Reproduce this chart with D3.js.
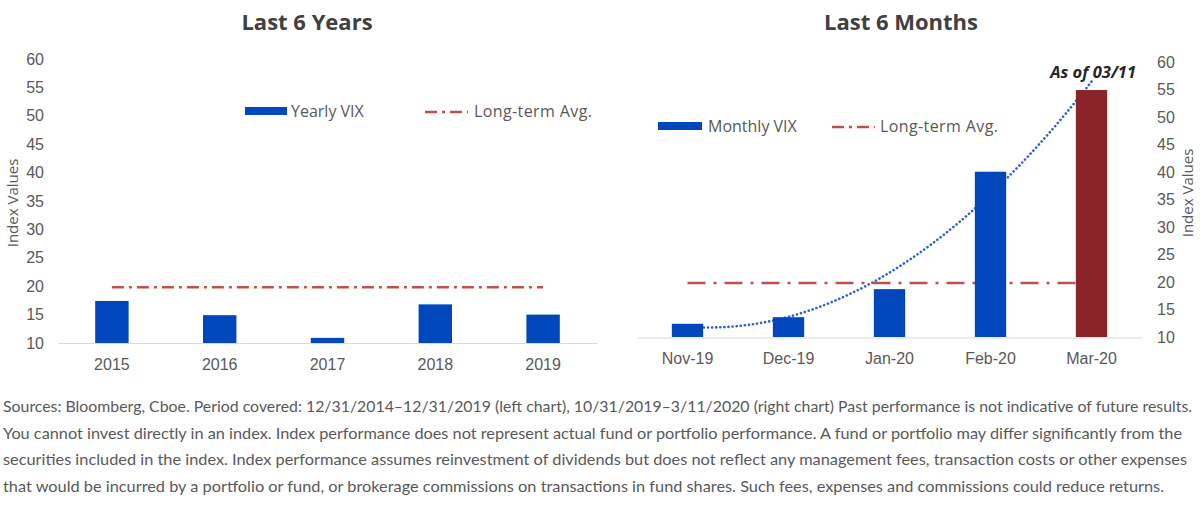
<!DOCTYPE html>
<meta charset="utf-8">
<title>VIX</title>
<style>
body { margin: 0px; background: #fff; }
svg { display: block; font-family: "Open Sans", sans-serif; }
.tick text { fill: #595959; font-size: 16px; }
.title { font-weight: bold; font-size: 22px; fill: #404040; text-anchor: middle; }
.legend { fill: #595959; font-size: 16px; }
.note { fill: #595959; font-size: 15px; font-family: Lato, sans-serif; }
</style>
<script src="https://d3js.org/d3.v7.min.js"></script>
<body>
<script>

var width = 1200, height = 521;

// left chart: yearly VIX
var years = ["2015", "2016", "2017", "2018", "2019"];
var yearlyVix = [17.4, 14.9, 10.9, 16.8, 15.0];

// right chart: monthly VIX
var months = ["Nov-19", "Dec-19", "Jan-20", "Feb-20", "Mar-20"];
var monthlyVix = [12.4, 13.6, 18.7, 40.05, 54.9];

var longTermAvg = 19.8;
var yTicks = [10, 15, 20, 25, 30, 35, 40, 45, 50, 55, 60];

var notes = [
  "Sources: Bloomberg, Cboe. Period covered: 12/31/2014\u201312/31/2019 (left chart), 10/31/2019\u20133/11/2020 (right chart) Past performance is not indicative of future results.",
  "You cannot invest directly in an index. Index performance does not represent actual fund or portfolio performance. A fund or portfolio may differ significantly from the",
  "securities included in the index. Index performance assumes reinvestment of dividends but does not reflect any management fees, transaction costs or other expenses",
  "that would be incurred by a portfolio or fund, or brokerage commissions on transactions in fund shares. Such fees, expenses and commissions could reduce returns."
];
var noteWidths = [1189, 1179, 1184, 1161];

var blue = "#0047bb", darkRed = "#8a2428", avgRed = "#c0504d", trendBlue = "#2e62cf";

var svg = d3.select("body").append("svg")
    .attr("width", width)
    .attr("height", height);

// ---------- left chart ----------
var xL = d3.scaleBand().domain(years).range([58, 597]).paddingInner(0.69).paddingOuter(0.345);
var yL = d3.scaleLinear().domain([10, 60]).range([343, 59]);

svg.append("text").attr("class", "title").attr("x", 307).attr("y", 30).text("Last 6 Years");

svg.append("g")
    .attr("transform", "translate(58,0)")
    .call(d3.axisLeft(yL).tickValues(yTicks).tickSize(0).tickPadding(14))
    .call(function(g) { g.select(".domain").remove(); });

svg.append("g")
    .attr("transform", "translate(0,343)")
    .call(d3.axisBottom(xL).tickSize(0).tickSizeOuter(0).tickPadding(16))
    .call(function(g) { g.select(".domain").attr("stroke", "#d9d9d9").attr("stroke-width", 1.2); });

svg.append("text")
    .attr("class", "legend")
    .attr("transform", "translate(18,203) rotate(-90)")
    .attr("text-anchor", "middle")
    .style("font-size", "15px")
    .text("Index Values");

var line = d3.line();

svg.append("path")
    .attr("d", line([[xL(years[0]) + xL.bandwidth() / 2, yL(longTermAvg)],
                     [xL(years[years.length - 1]) + xL.bandwidth() / 2, yL(longTermAvg)]]))
    .attr("stroke", avgRed).attr("stroke-width", 2.5).attr("fill", "none")
    .attr("stroke-dasharray", "12,5,3,5");

svg.selectAll("rect.yr")
    .data(years)
  .enter().append("rect")
    .attr("class", "yr")
    .attr("x", function(d) { return xL(d); })
    .attr("width", xL.bandwidth())
    .attr("y", function(d, i) { return yL(yearlyVix[i]); })
    .attr("height", function(d, i) { return yL(10) - yL(yearlyVix[i]); })
    .attr("fill", blue);

// left legend
svg.append("rect").attr("x", 245).attr("y", 107).attr("width", 42).attr("height", 8).attr("fill", blue);
svg.append("text").attr("class", "legend").attr("x", 291).attr("y", 117).text("Yearly VIX");
svg.append("path").attr("d", "M425,112H468").attr("stroke", avgRed).attr("stroke-width", 2.5)
    .attr("stroke-dasharray", "12,5,3,5");
svg.append("text").attr("class", "legend").attr("x", 474).attr("y", 117)
    .style("letter-spacing", "0.4px").text("Long-term Avg.");

// ---------- right chart ----------
var xR = d3.scaleBand().domain(months).range([637, 1142]).paddingInner(0.69).paddingOuter(0.345);
var yR = d3.scaleLinear().domain([10, 60]).range([337, 62]);

svg.append("text").attr("class", "title").attr("x", 901).attr("y", 30).text("Last 6 Months");

svg.append("g")
    .attr("transform", "translate(1142,0)")
    .call(d3.axisRight(yR).tickValues(yTicks).tickSize(0).tickPadding(15))
    .call(function(g) { g.select(".domain").remove(); });

svg.append("g")
    .attr("transform", "translate(0,337.5)")
    .call(d3.axisBottom(xR).tickSize(0).tickSizeOuter(0).tickPadding(15))
    .call(function(g) { g.select(".domain").attr("stroke", "#d9d9d9").attr("stroke-width", 1.2); });

svg.append("text")
    .attr("class", "legend")
    .attr("transform", "translate(1193,193) rotate(-90)")
    .attr("text-anchor", "middle")
    .style("font-size", "15px")
    .text("Index Values");

// polynomial (order 2) trendline fitted to the monthly values
var n = monthlyVix.length, tMean = (n + 1) / 2;
var s2 = 0, s4 = 0, sy = 0, sty = 0, st2y = 0;
monthlyVix.forEach(function(v, i) {
  var t = i + 1 - tMean;
  s2 += t * t; s4 += t * t * t * t; sy += v; sty += t * v; st2y += t * t * v;
});
var b = sty / s2;
var c = (st2y - s2 * sy / n) / (s4 - s2 * s2 / n);
var a = (sy - c * s2) / n;
var xCenter = d3.scaleLinear().domain([1, n])
    .range([xR(months[0]) + xR.bandwidth() / 2, xR(months[n - 1]) + xR.bandwidth() / 2]);
var trendPts = d3.range(1, n + 0.001, 0.05).map(function(x) {
  var t = x - tMean;
  return [xCenter(x), yR(a + b * t + c * t * t)];
});

svg.append("path")
    .attr("d", line(trendPts))
    .attr("stroke", trendBlue).attr("stroke-width", 2.6).attr("fill", "none")
    .attr("stroke-dasharray", "0.1,4").attr("stroke-linecap", "round");

svg.append("path")
    .attr("d", line([[xCenter(1), yR(longTermAvg)], [xCenter(n), yR(longTermAvg)]]))
    .attr("stroke", avgRed).attr("stroke-width", 2.5).attr("fill", "none")
    .attr("stroke-dasharray", "18,8,3,8");

svg.selectAll("rect.mo")
    .data(months)
  .enter().append("rect")
    .attr("class", "mo")
    .attr("x", function(d) { return xR(d); })
    .attr("width", xR.bandwidth())
    .attr("y", function(d, i) { return yR(monthlyVix[i]); })
    .attr("height", function(d, i) { return yR(10) - yR(monthlyVix[i]); })
    .attr("fill", function(d, i) { return i === n - 1 ? darkRed : blue; });

svg.append("text")
    .attr("x", 1136).attr("y", 78)
    .attr("text-anchor", "end")
    .style("font-weight", "bold").style("font-style", "italic").style("font-size", "16.5px")
    .attr("fill", "#262626")
    .text("As of 03/11");

// right legend
svg.append("rect").attr("x", 658).attr("y", 122).attr("width", 44).attr("height", 8).attr("fill", blue);
svg.append("text").attr("class", "legend").attr("x", 708).attr("y", 132).text("Monthly VIX");
svg.append("path").attr("d", "M832,127H875").attr("stroke", avgRed).attr("stroke-width", 2.5)
    .attr("stroke-dasharray", "12,5,3,5");
svg.append("text").attr("class", "legend").attr("x", 880).attr("y", 132)
    .style("letter-spacing", "0.4px").text("Long-term Avg.");

// ---------- footnote ----------
svg.selectAll("text.note")
    .data(notes)
  .enter().append("text")
    .attr("class", "note")
    .attr("x", 3)
    .attr("y", function(d, i) { return 412 + i * 26.7; })
    .attr("textLength", function(d, i) { return noteWidths[i]; })
    .attr("lengthAdjust", "spacingAndGlyphs")
    .text(function(d) { return d; });

</script>
